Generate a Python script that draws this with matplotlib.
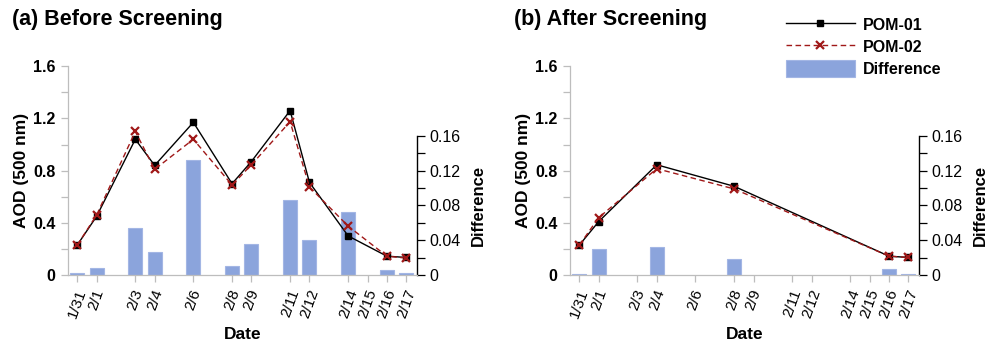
"""AOD comparison of POM-01 and POM-02, before and after screening."""
import matplotlib
matplotlib.use("Agg")
import matplotlib.pyplot as plt
import numpy as np
import pandas as pd
from matplotlib.ticker import FixedLocator, MultipleLocator

plt.rcParams['font.family'] = ['Liberation Sans', 'DejaVu Sans']

# data
tick_dates = ["1/31", "2/1", "2/3", "2/4", "2/6", "2/8", "2/9", "2/11",
              "2/12", "2/14", "2/15", "2/16", "2/17"]

dates_before = ["1/31", "2/1", "2/3", "2/4", "2/6", "2/8", "2/9", "2/11",
                "2/12", "2/14", "2/16", "2/17"]
pom01_before = [0.23, 0.45, 1.04, 0.84, 1.17, 0.70, 0.87, 1.26, 0.71, 0.30,
                0.145, 0.135]
pom02_before = [0.23, 0.46, 1.10, 0.81, 1.04, 0.69, 0.845, 1.175, 0.675,
                0.375, 0.145, 0.13]
diff_before = [0.002, 0.008, 0.054, 0.026, 0.132, 0.011, 0.036, 0.086, 0.040,
               0.073, 0.006, 0.002]

dates_after = ["1/31", "2/1", "2/4", "2/8", "2/16", "2/17"]
pom01_after = [0.23, 0.41, 0.845, 0.68, 0.145, 0.135]
pom02_after = [0.23, 0.44, 0.815, 0.66, 0.145, 0.135]
diff_after = [0.0008, 0.030, 0.032, 0.018, 0.0065, 0.0015]

aod_ticks = [0, 0.4, 0.8, 1.2, 1.6]
aod_labels = ["0", "0.4", "0.8", "1.2", "1.6"]
diff_ticks = [0, 0.04, 0.08, 0.12, 0.16]
diff_labels = ["0", "0.04", "0.08", "0.12", "0.16"]

titles = ["(a) Before Screening", "(b) After Screening"]

GRAY = '#bdbdbd'
BAR = '#8ba4dc'
RED = '#a01818'


def to_day(s):
    """Days since 1/31."""
    m, d = s.split('/')
    return (pd.Timestamp(2013, int(m), int(d)) - pd.Timestamp(2013, 1, 31)).days


def panel(fig, left, title, dates, p1, p2, diff):
    """Draw one panel."""
    ax = fig.add_axes([left, 0.198, 0.3533, 0.609])
    ax2 = ax.twinx()
    ax.set_zorder(ax2.get_zorder() + 1)
    ax.patch.set_visible(False)

    x = np.array([to_day(s) for s in dates])
    ax2.bar(x, diff, width=0.72, color=BAR, edgecolor='#a3b6e4', linewidth=0.8)
    l1, = ax.plot(x, p1, '-', color='black', lw=1.0, marker='s', ms=4.5,
                  label='POM-01')
    l2, = ax.plot(x, p2, '--', color=RED, lw=1.0, marker='x', ms=6, mew=1.6,
                  label='POM-02', dashes=(4, 2.5))

    ax.set_xlim(-0.48, 17.56)
    ax.set_ylim(0, 1.6)
    ax2.set_ylim(0, 0.24)

    # left axis
    for s in ['top', 'right']:
        ax.spines[s].set_visible(False)
    for s in ['left', 'bottom']:
        ax.spines[s].set_color(GRAY)
        ax.spines[s].set_linewidth(0.9)
    ax.set_yticks(aod_ticks)
    ax.set_yticklabels(aod_labels, fontsize=11.5, fontweight='bold')
    ax.yaxis.set_minor_locator(MultipleLocator(0.2))
    ax.tick_params(axis='y', which='both', colors=GRAY, length=5, width=0.9,
                   labelcolor='black', pad=4)
    ax.set_ylabel('AOD (500 nm)', fontsize=12.5, fontweight='bold')
    ax.yaxis.set_label_coords(-0.113, 0.5)

    ax.set_xticks([to_day(s) for s in tick_dates])
    ax.set_xticklabels(tick_dates, rotation=70, fontsize=11)
    ax.tick_params(axis='x', colors=GRAY, length=5, width=0.9,
                   labelcolor='black', pad=4)
    ax.set_xlabel('Date', fontsize=12.5, fontweight='bold', labelpad=5)

    # right axis
    for s in ['top', 'left', 'bottom']:
        ax2.spines[s].set_visible(False)
    ax2.spines['right'].set_bounds(0, 0.16)
    ax2.spines['right'].set_linewidth(1.0)
    ax2.set_yticks(diff_ticks)
    ax2.set_yticklabels(diff_labels, fontsize=11.5)
    ax2.yaxis.set_minor_locator(FixedLocator(np.arange(0.02, 0.16, 0.04)))
    ax2.tick_params(axis='y', which='both', length=6, width=0.9, pad=3)
    ax2.set_ylabel('Difference', fontsize=12, fontweight='bold')
    ax2.yaxis.set_label_coords(1.155, 0.335)

    fig.text(left - 0.057, 1 - 20 / 343, title, fontsize=15.5,
             fontweight='bold', va='center', ha='left')
    return l1, l2, ax2.patches[0]


def main():
    """Run example."""
    fig = plt.figure(figsize=(9.88, 3.43), dpi=100)
    handles = panel(fig, 0.0688, titles[0], dates_before, pom01_before,
                    pom02_before, diff_before)
    panel(fig, 0.577, titles[1], dates_after, pom01_after, pom02_after,
          diff_after)

    fig.legend(handles, ['POM-01', 'POM-02', 'Difference'],
               loc='upper left', bbox_to_anchor=(786 / 988, 1 - 16 / 343),
               frameon=False, handlelength=4.3, handleheight=1.25,
               labelspacing=0.33, handletextpad=0.5, borderpad=0,
               borderaxespad=0, prop={'size': 11.5, 'weight': 'bold'})

    fig.savefig('out.png', dpi=100)


if __name__ == "__main__":
    main()
